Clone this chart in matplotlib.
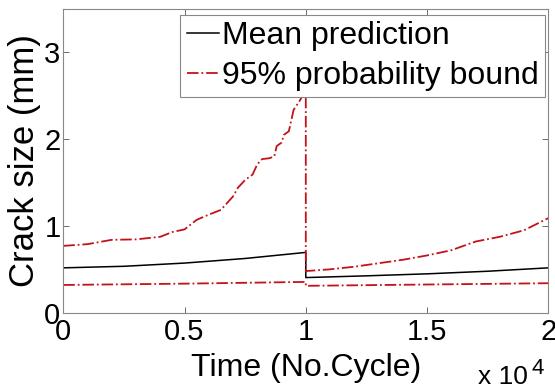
import numpy as np
import matplotlib.pyplot as plt
import matplotlib

font = {'family': 'Liberation Sans', 'size': 21}
matplotlib.rc('font', **font)

# mean prediction, two segments (before / after repair at 1e4 cycles)
t_mean1 = [0, 2500, 5000, 7500, 10000]
mean1 = [0.517, 0.535, 0.572, 0.625, 0.695]
t_mean2 = [10000, 12500, 15000, 17500, 20000]
mean2 = [0.405, 0.425, 0.448, 0.478, 0.517]

# upper 95% bound
t_up1 = [0, 1000, 2000, 3000, 4000, 4500, 5000, 5500, 6000, 6500, 7000, 7200,
         7500, 7800, 8000, 8200, 8500, 8700, 8800, 9000, 9100, 9300, 9500,
         9700, 10000]
up1 = [0.77, 0.79, 0.84, 0.845, 0.875, 0.93, 0.96, 1.07, 1.13, 1.185, 1.34,
       1.44, 1.53, 1.59, 1.71, 1.77, 1.78, 1.80, 1.92, 1.96, 2.05, 2.09, 2.34,
       2.42, 2.56]
t_up2 = [10000, 11000, 12000, 13000, 14000, 15000, 16000, 17000, 18000,
         19000, 20000]
up2 = [0.48, 0.50, 0.53, 0.57, 0.61, 0.66, 0.72, 0.82, 0.875, 0.95, 1.09]

# lower 95% bound
t_lo1 = [0, 5000, 10000]
lo1 = [0.32, 0.335, 0.355]
t_lo2 = [10000, 15000, 20000]
lo2 = [0.31, 0.325, 0.34]

red = '#c4121a'
fig = plt.figure(figsize=(5.55, 3.88), dpi=100)
ax = fig.add_axes([0.114, 0.194, 0.874, 0.783])

ax.plot(t_mean1 + t_mean2, mean1 + mean2, color='k', lw=1.1, label='Mean prediction')
ax.plot(t_up1 + t_up2, up1 + up2, color=red, lw=1.3, ls='-.',
        label='95% probability bound')
ax.plot(t_lo1 + t_lo2, lo1 + lo2, color=red, lw=1.3, ls='-.')

ax.set_xlim(0, 20000)
ax.set_ylim(0, 3.5)
ax.set_xticks([0, 5000, 10000, 15000, 20000])
ax.set_xticklabels(['0', '0.5', '1', '1.5', '2'])
ax.set_yticks([0, 1, 2, 3])
ax.tick_params(direction='in', length=4, width=0.6, color='#555555',
               top=True, right=True, pad=2)
ax.tick_params(axis='x', pad=4)
for s in ax.spines.values():
    s.set_color('#888888')
    s.set_linewidth(0.8)

ax.set_xlabel('Time (No.Cycle)', fontsize=23, labelpad=5)
ax.set_ylabel('Crack size (mm)', fontsize=25, labelpad=2)

leg = ax.legend(loc='upper right', bbox_to_anchor=(0.993, 0.98),
                fontsize=23, handlelength=1.0,
                handletextpad=0.1, borderpad=0.2, labelspacing=0.3,
                borderaxespad=0, fancybox=False, framealpha=1)
leg.get_frame().set_edgecolor('#888888')
leg.get_frame().set_linewidth(0.8)

fig.text(0.861, 0.059, 'x 10', fontsize=19, va='top', ha='left')
fig.text(0.958, 0.077, '4', fontsize=16, va='top', ha='left')

plt.savefig('out.png')
